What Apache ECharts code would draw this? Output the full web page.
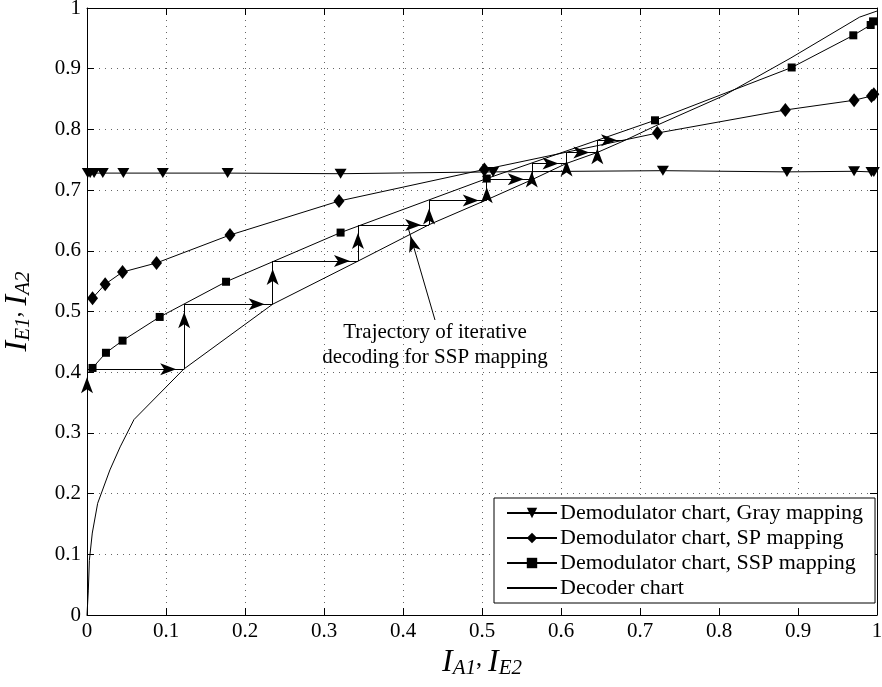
<!DOCTYPE html>
<html><head><meta charset="utf-8">
<script src="https://cdn.jsdelivr.net/npm/echarts@6/dist/echarts.min.js"></script>
<style>html,body{margin:0;padding:0;background:#fff}#c{width:882px;height:687px}</style>
</head><body><div id="c"></div>
<script>
const FONT = '"Liberation Serif", "Times New Roman", serif';
const tickValues = [0, 0.1, 0.2, 0.3, 0.4, 0.5, 0.6, 0.7, 0.8, 0.9, 1];
const seriesNames = ['Demodulator chart, Gray mapping', 'Demodulator chart, SP mapping', 'Demodulator chart, SSP mapping', 'Decoder chart'];

const grayX = [0.001, 0.004, 0.009, 0.02, 0.046, 0.096, 0.178, 0.321, 0.514, 0.729, 0.886, 0.971, 0.993, 0.996];
const grayY = [0.728, 0.728, 0.728, 0.728, 0.728, 0.728, 0.728, 0.727, 0.730, 0.732, 0.730, 0.731, 0.730, 0.730];

const spX = [0.007, 0.023, 0.045, 0.088, 0.181, 0.319, 0.503, 0.722, 0.884, 0.971, 0.993, 0.996];
const spY = [0.522, 0.545, 0.565, 0.580, 0.626, 0.682, 0.734, 0.794, 0.832, 0.848, 0.855, 0.858];

const sspX = [0.007, 0.024, 0.045, 0.092, 0.176, 0.321, 0.506, 0.719, 0.892, 0.970, 0.992, 0.995];
const sspY = [0.407, 0.432, 0.452, 0.491, 0.549, 0.630, 0.719, 0.815, 0.902, 0.955, 0.972, 0.978];

const decX = [0, 0.0017, 0.003, 0.0067, 0.0135, 0.029, 0.042, 0.0595, 0.1224, 0.235, 0.343, 0.433, 0.506, 0.563, 0.607, 0.646, 0.681, 0.72, 0.805, 0.89, 0.978, 1.0];
const decY = [0, 0.041, 0.09, 0.135, 0.184, 0.239, 0.277, 0.322, 0.405, 0.512, 0.583, 0.643, 0.684, 0.717, 0.744, 0.762, 0.782, 0.806, 0.855, 0.917, 0.985, 0.995];

const trajX = [0, 0, 0.123, 0.123, 0.235, 0.235, 0.343, 0.343, 0.433, 0.433, 0.506, 0.506, 0.563, 0.563, 0.607, 0.607, 0.646, 0.646, 0.681];
const trajY = [0, 0.405, 0.405, 0.512, 0.512, 0.583, 0.583, 0.6425, 0.6425, 0.683, 0.683, 0.718, 0.718, 0.744, 0.744, 0.762, 0.762, 0.782, 0.782];

const annotText = 'Trajectory of iterative\ndecoding for SSP mapping';
const annotTail = [0.4405, 0.486];
const annotTip = [0.4067, 0.637];

const zip = (a, b) => a.map((v, i) => [v, b[i]]);

const ARROW_LEN = 16, ARROW_W = 9;
const linePairs = [];
const arrowHeads = [];
for (let i = 0; i < trajX.length - 1; i++) {
  linePairs.push([{coord: [trajX[i], trajY[i]]}, {coord: [trajX[i + 1], trajY[i + 1]]}]);
  const vertical = trajX[i] === trajX[i + 1];
  arrowHeads.push({
    value: [trajX[i + 1], trajY[i + 1]],
    symbolRotate: vertical ? 0 : -90,
    symbolOffset: vertical ? [0, ARROW_LEN / 2] : [-ARROW_LEN / 2, 0]
  });
}
linePairs.push([{coord: annotTail}, {coord: annotTip}]);

const chart = echarts.init(document.getElementById('c'), null, {renderer: 'canvas'});

const axisCommon = {
  type: 'value', min: 0, max: 1, interval: 0.1,
  axisLine: {show: true, onZero: false, lineStyle: {color: '#000', width: 1}},
  axisTick: {show: true, inside: true, length: 7, lineStyle: {color: '#000', width: 1}},
};
const gridLine = {show: true, lineStyle: {color: '#666', width: 1, type: [1, 5]}};
const lineStyle = {color: '#000', width: 1};
const richName = {
  i: {fontSize: 32, fontStyle: 'italic', fontFamily: FONT, color: '#000', lineHeight: 32, padding: [0, 0, 10, 0], verticalAlign: 'top'},
  s: {fontSize: 21, fontStyle: 'italic', fontFamily: FONT, color: '#000', lineHeight: 21, verticalAlign: 'bottom'},
  c: {fontSize: 24, fontFamily: FONT, color: '#000', lineHeight: 24, padding: [0, 0, 18, 0], verticalAlign: 'top'}
};
const tickFmt = v => String(Math.round(v * 10) / 10);

chart.setOption({
  animation: false,
  backgroundColor: '#fff',
  textStyle: {fontFamily: FONT},
  grid: {left: 87, right: 5, top: 8, bottom: 72, containLabel: false, outerBoundsMode: 'none'},
  xAxis: [
    Object.assign({}, axisCommon, {
      position: 'bottom',
      axisLabel: {color: '#000', fontSize: 21, fontFamily: FONT, margin: 6, formatter: tickFmt},
      splitLine: gridLine,
      name: '{i|I}{s|A1}{c|, }{i|I}{s|E2}',
      nameLocation: 'middle', nameGap: 31,
      nameTextStyle: {color: '#000', fontFamily: FONT, rich: richName}
    }),
    Object.assign({}, axisCommon, {position: 'top', axisLabel: {show: false}, splitLine: {show: false}})
  ],
  yAxis: [
    Object.assign({}, axisCommon, {
      position: 'left',
      axisLabel: {color: '#000', fontSize: 21, fontFamily: FONT, margin: 6, formatter: tickFmt},
      splitLine: gridLine,
      name: '{i|I}{s|E1}{c|, }{i|I}{s|A2}',
      nameLocation: 'middle', nameGap: 38, nameRotate: 90,
      nameTextStyle: {color: '#000', fontFamily: FONT, rich: richName}
    }),
    Object.assign({}, axisCommon, {position: 'right', axisLabel: {show: false}, splitLine: {show: false}})
  ],
  legend: {
    data: [
      {name: seriesNames[0]},
      {name: seriesNames[1]},
      {name: seriesNames[2]},
      {name: seriesNames[3], itemStyle: {color: 'rgba(0,0,0,0)', borderWidth: 0}}
    ],
    orient: 'vertical', left: 494, top: 498,
    backgroundColor: '#fff', borderColor: '#000', borderWidth: 1, borderRadius: 0,
    padding: [4, 12, 4, 12], itemWidth: 50, itemHeight: 13, itemGap: 3,
    textStyle: {color: '#000', fontSize: 22, fontFamily: FONT, padding: [0, 0, 0, -2]}
  },
  graphic: [{
    type: 'text', x: 435, y: 320, z: 100,
    style: {text: annotText, font: '21px ' + FONT, fill: '#000', align: 'center', textAlign: 'center', lineHeight: 25}
  }],
  series: [
    {
      name: seriesNames[0], type: 'line', data: zip(grayX, grayY),
      symbol: 'triangle', symbolRotate: 180, symbolSize: [12, 10], showAllSymbol: true,
      lineStyle: lineStyle, itemStyle: {color: '#000'}, z: 3
    },
    {
      name: seriesNames[1], type: 'line', data: zip(spX, spY),
      symbol: 'diamond', symbolSize: [11, 14], showAllSymbol: true,
      lineStyle: lineStyle, itemStyle: {color: '#000'}, z: 3
    },
    {
      name: seriesNames[2], type: 'line', data: zip(sspX, sspY),
      symbol: 'rect', symbolSize: 8, showAllSymbol: true,
      lineStyle: lineStyle, itemStyle: {color: '#000'}, z: 3
    },
    {
      name: seriesNames[3], type: 'line', data: zip(decX, decY),
      symbol: 'none', showSymbol: false,
      lineStyle: lineStyle, itemStyle: {color: '#000'}, z: 3
    },
    {
      name: 'trajectory', type: 'line', data: [], z: 4,
      markLine: {
        silent: true, animation: false,
        symbol: ['none', 'none'],
        label: {show: false},
        lineStyle: {color: '#000', width: 1, type: 'solid'},
        emphasis: {disabled: true},
        data: linePairs
      }
    },
    {
      name: 'arrowheads', type: 'scatter', z: 5, silent: true,
      symbol: 'arrow', symbolSize: [ARROW_W, ARROW_LEN],
      itemStyle: {color: '#000', opacity: 1},
      data: arrowHeads.concat([{
        value: annotTip, symbolRotate: 16,
        symbolOffset: [2.2, 7.7]
      }])
    }
  ]
});
</script></body></html>
